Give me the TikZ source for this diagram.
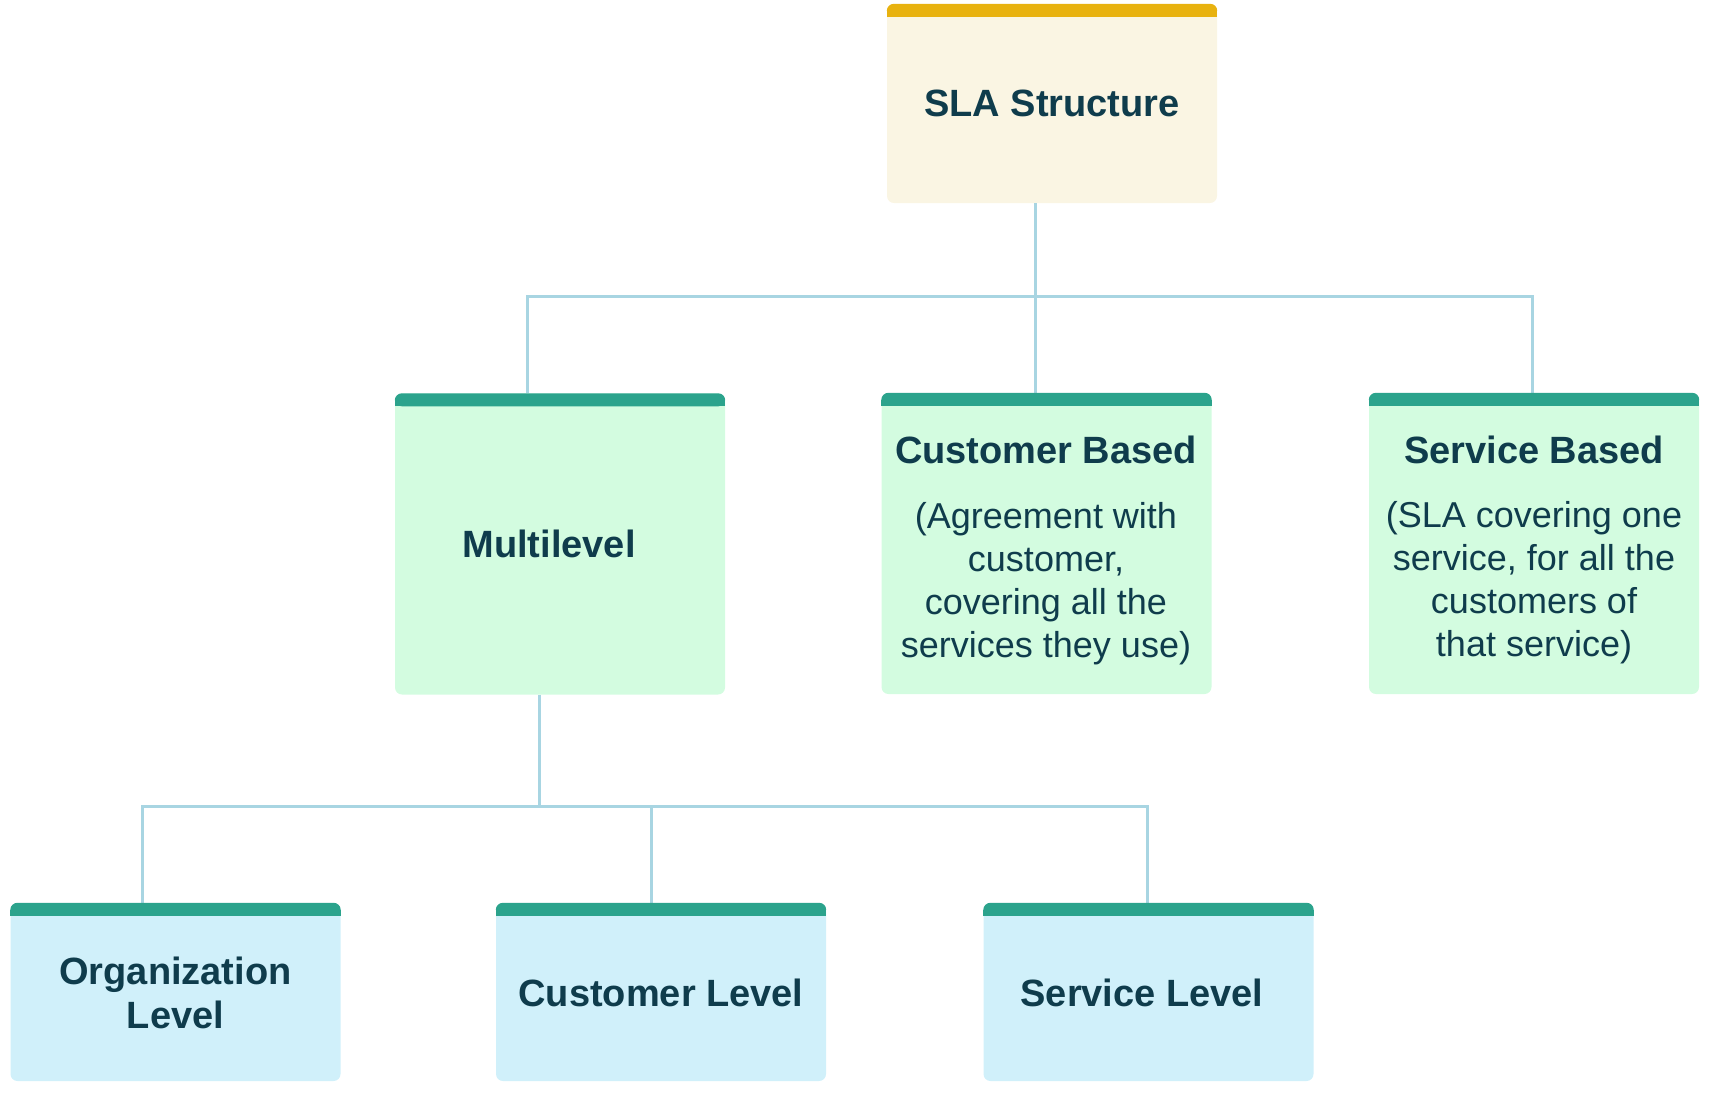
\documentclass[tikz,border=0pt]{standalone}
\usepackage{fontspec}
\setmainfont{Liberation Sans}
\definecolor{goldbar}{HTML}{E8B20F}
\definecolor{creamfill}{HTML}{FAF5E3}
\definecolor{tealbar}{HTML}{2BA38C}
\definecolor{mintfill}{HTML}{D3FCE0}
\definecolor{bluefill}{HTML}{D0F0FA}
\definecolor{inkcol}{HTML}{0F3C4C}
\definecolor{linecol}{HTML}{A8D5E2}
\tikzset{
  boxbase/.style={draw=none, rounded corners=7pt, inner sep=0pt, minimum width=330pt},
  topbox/.style={boxbase, fill=creamfill, minimum height=199pt},
  midbox/.style={boxbase, fill=mintfill, minimum height=301pt},
  lowbox/.style={boxbase, fill=bluefill, minimum height=178pt},
  conn/.style={draw=linecol, line width=3pt},
  titletext/.style={text=inkcol, inner sep=0pt, anchor=base, font=\fontsize{38}{44}\selectfont\bfseries},
  bodytext/.style={text=inkcol, inner sep=0pt, anchor=base, font=\fontsize{36}{43}\selectfont},
}
\newcommand{\headbar}[2]{%
  \fill[#2, rounded corners=7pt] (#1.north west) rectangle ([yshift=-13pt]#1.north east);
  \fill[#2] ([yshift=-7pt]#1.north west) rectangle ([yshift=-13pt]#1.north east);
}
\begin{document}
\begin{tikzpicture}[x=1pt, y=-1pt]
\useasboundingbox (0,0) rectangle (1713,1096);

% boxes
\node[topbox] (top) at (1052,103.5) {};
\node[midbox] (ml) at (560,544) {};
\node[midbox] (cb) at (1046.5,543.5) {};
\node[midbox] (sb) at (1534,543.5) {};
\node[lowbox] (ol) at (175.5,992) {};
\node[lowbox] (cl) at (661,992) {};
\node[lowbox] (sl) at (1148.5,992) {};

% connectors
\coordinate (busa) at (1035,296);
\coordinate (busb) at (539,806);
\draw[conn] (busa |- top.south) -- (busa |- cb.north);
\draw[conn] ([xshift=-33pt]ml.north) |- ([xshift=-2pt]sb.north |- busa) -- ([xshift=-2pt]sb.north);
\draw[conn] ([xshift=-21pt]ml.south) -- (busb);
\draw[conn] ([xshift=-33.5pt]ol.north) |- ([xshift=-1.5pt]sl.north |- busb) -- ([xshift=-1.5pt]sl.north);
\draw[conn] ([xshift=-10pt]cl.north |- busb) -- ([xshift=-10pt]cl.north);

% header bars
\headbar{top}{goldbar}
\headbar{ml}{tealbar}
\headbar{cb}{tealbar}
\headbar{sb}{tealbar}
\headbar{ol}{tealbar}
\headbar{cl}{tealbar}
\headbar{sl}{tealbar}

% texts
\node[titletext] (tTop) at (1052,116) {SLA Structure};
\node[titletext] (tMl) at (549,557) {Multilevel};

\node[titletext] (tCb) at (1046,463) {Customer Based};
\node[bodytext] (cb1) at (1046,528) {(Agreement with};
\node[bodytext] (cb2) at (1046,571) {customer,};
\node[bodytext] (cb3) at (1046,614) {covering all the};
\node[bodytext] (cb4) at (1046,657) {services they use)};

\node[titletext] (tSb) at (1534,463) {Service Based};
\node[bodytext] (sb1) at (1534,527) {(SLA covering one};
\node[bodytext] (sb2) at (1534,570) {service, for all the};
\node[bodytext] (sb3) at (1534,613) {customers of};
\node[bodytext] (sb4) at (1534,656) {that service)};

\node[titletext] (tOl1) at (175.5,984) {Organization};
\node[titletext] (tOl2) at (175.5,1028) {Level};
\node[titletext] (tCl) at (661,1006) {Customer Level};
\node[titletext] (tSl) at (1142,1006) {Service Level};
\end{tikzpicture}
\end{document}
